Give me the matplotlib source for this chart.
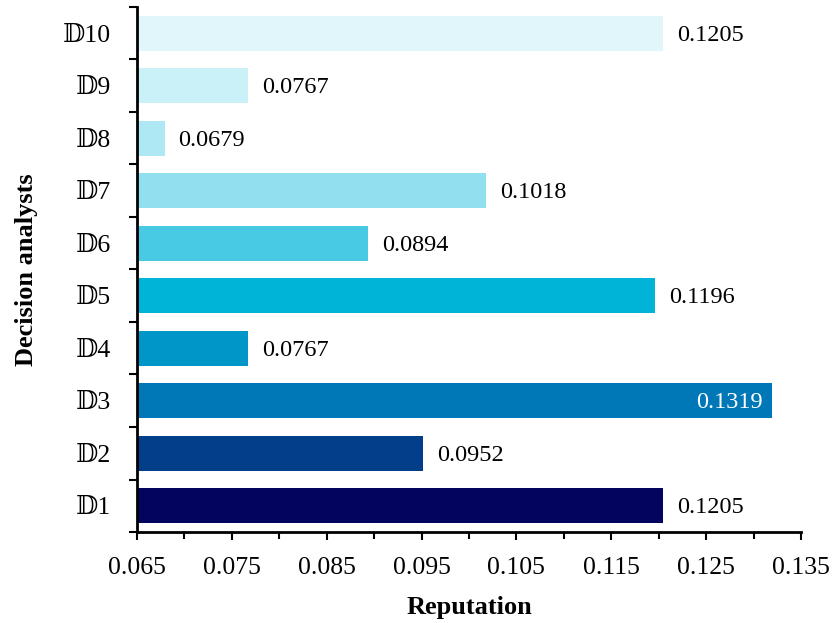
import matplotlib
matplotlib.use('Agg')
from matplotlib import pyplot as plt
from matplotlib.ticker import FixedLocator, NullFormatter

analysts = ['\U0001D53B' + str(i) for i in range(1, 11)]
reputation = [0.1205, 0.0952, 0.1319, 0.0767, 0.1196, 0.0894, 0.1018, 0.0679, 0.0767, 0.1205]
colors = ['#03045E', '#023E8A', '#0077B6', '#0096C7', '#00B4D8',
          '#48CAE4', '#90E0EF', '#ADE8F4', '#CAF0F8', '#E0F6FB']
x_ticks = [0.065, 0.075, 0.085, 0.095, 0.105, 0.115, 0.125, 0.135]
x_minor = [0.070, 0.080, 0.090, 0.100, 0.110, 0.120, 0.130]
x_start = 0.065

plt.rcParams['font.family'] = ['Liberation Serif', 'DejaVu Serif', 'DejaVu Sans']

fig = plt.figure(figsize=(8.33, 6.23), dpi=100)
ax = fig.add_axes([0.1645, 0.146, 0.797, 0.843])

ypos = list(range(len(analysts)))
ax.barh(ypos, [v - x_start for v in reputation], left=x_start, height=0.67, color=colors)

for y, v in zip(ypos, reputation):
    if v >= 0.13:
        ax.annotate(f'{v:.4f}', (v, y), xytext=(-6, -1.5), textcoords='offset points',
                    ha='right', va='center', fontsize=17.5, color='white')
    else:
        ax.annotate(f'{v:.4f}', (v, y), xytext=(10, -1.5), textcoords='offset points',
                    ha='left', va='center', fontsize=17.5, color='black')

ax.set_xlim(0.065, 0.135)
ax.set_ylim(-0.5, 9.5)
ax.xaxis.set_major_locator(FixedLocator(x_ticks))
ax.xaxis.set_minor_locator(FixedLocator(x_minor))
ax.set_xticks(x_ticks, [f'{t:.3f}' for t in x_ticks])

# y ticks sit between the bars, labels centred on the bars
ax.yaxis.set_major_locator(FixedLocator([y - 0.5 for y in range(11)]))
ax.yaxis.set_major_formatter(NullFormatter())
ax.set_yticks(ypos, analysts, minor=True)
ax.tick_params(axis='y', which='minor', length=0, pad=19, labelsize=18.5)
ax.tick_params(axis='y', which='major', length=6, width=1.5)
ax.tick_params(axis='x', which='major', length=6, width=1.5, labelsize=18.5, pad=12)
ax.tick_params(axis='x', which='minor', length=5, width=1.5)

for side in ['top', 'right']:
    ax.spines[side].set_visible(False)
for side in ['left', 'bottom']:
    ax.spines[side].set_linewidth(2)

ax.set_xlabel('Reputation', fontsize=19, fontweight='bold', labelpad=12)
ax.set_ylabel('Decision analysts', fontsize=19, fontweight='bold', labelpad=18)

fig.savefig('out.png', dpi=100)
